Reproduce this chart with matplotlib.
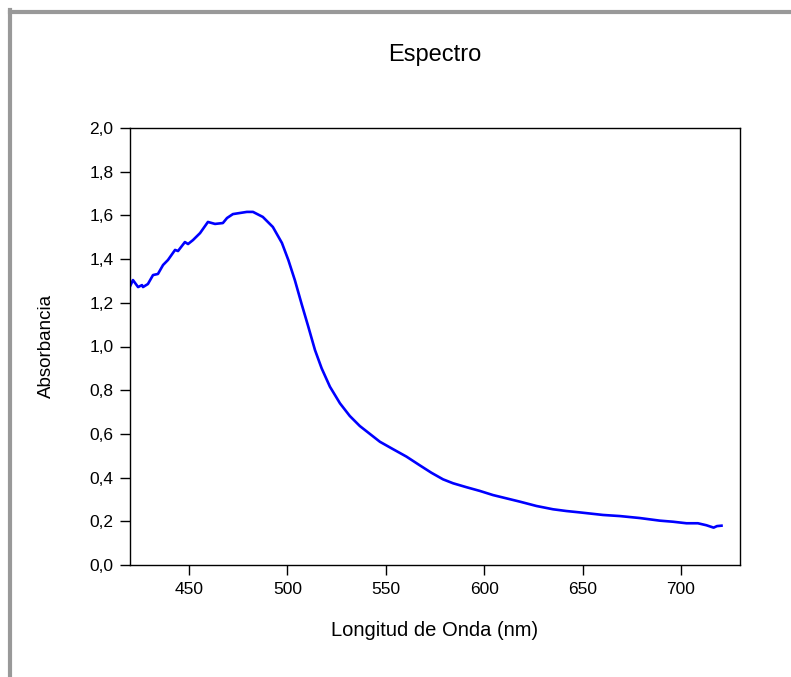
import matplotlib.pyplot as plt
from matplotlib.lines import Line2D
from matplotlib.ticker import FuncFormatter

plt.rcParams['font.family'] = ['Liberation Sans', 'DejaVu Sans']

# espectro de absorcion (nm, absorbancia)
longitud = [420.0, 421.5, 424.1, 426.1, 426.6, 429.1, 431.7, 434.2, 436.8, 439.3,
            442.9, 444.4, 447.9, 449.5, 452.0, 455.6, 459.6, 463.2, 467.2, 469.3,
            472.3, 479.4, 482.5, 487.5, 492.6, 497.2, 500.5, 503.8, 507.2, 510.6,
            514.0, 517.4, 521.6, 526.7, 531.7, 536.8, 541.9, 547.0, 553.7, 560.5,
            567.3, 573.2, 579.1, 584.2, 591.0, 597.8, 604.5, 611.3, 618.1, 626.6,
            635.0, 641.8, 648.3, 660.4, 668.9, 679.0, 689.2, 696.0, 702.8, 708.6,
            712.9, 716.6, 718.3, 720.6]
absorbancia = [1.275, 1.304, 1.272, 1.281, 1.272, 1.286, 1.327, 1.332, 1.373, 1.396,
               1.442, 1.437, 1.478, 1.469, 1.487, 1.519, 1.570, 1.561, 1.565, 1.588,
               1.606, 1.616, 1.616, 1.593, 1.547, 1.474, 1.395, 1.303, 1.195, 1.091,
               0.984, 0.900, 0.816, 0.740, 0.682, 0.636, 0.600, 0.564, 0.530, 0.496,
               0.456, 0.422, 0.392, 0.374, 0.356, 0.339, 0.320, 0.305, 0.290, 0.270,
               0.255, 0.247, 0.241, 0.229, 0.224, 0.215, 0.203, 0.198, 0.191, 0.191,
               0.182, 0.171, 0.178, 0.180]

xticks = [450, 500, 550, 600, 650, 700]
yticks = [0.0, 0.2, 0.4, 0.6, 0.8, 1.0, 1.2, 1.4, 1.6, 1.8, 2.0]

fig = plt.figure(figsize=(7.91, 6.77), dpi=100)
ax = fig.add_axes([130 / 791, 1 - 565 / 677, 610 / 791, 437 / 677])

ax.plot(longitud, absorbancia, color='#0000ff', linewidth=1.9)

ax.set_xlim(420, 730)
ax.set_ylim(0, 2.0)
ax.set_xticks(xticks)
ax.set_yticks(yticks)
ax.yaxis.set_major_formatter(FuncFormatter(lambda v, p: f'{v:.1f}'.replace('.', ',')))
ax.tick_params(direction='out', length=7, width=1, labelsize=12.5, pad=5,
               top=False, right=False)
for s in ax.spines.values():
    s.set_linewidth(1)

fig.text(435 / 791, 1 - 55 / 677, 'Espectro', ha='center', va='center', fontsize=17)
fig.text(435 / 791, 1 - 630 / 677, 'Longitud de Onda (nm)', ha='center', va='center',
         fontsize=14.5)
fig.text(46 / 791, 1 - 346 / 677, 'Absorbancia', ha='center', va='center',
         rotation=90, fontsize=13.5)

# marco gris superior e izquierdo
fig.add_artist(Line2D([10 / 791, 1], [1 - 12 / 677, 1 - 12 / 677],
                      transform=fig.transFigure, color='#999999', linewidth=3))
fig.add_artist(Line2D([10 / 791, 10 / 791], [0, 1 - 10 / 677],
                      transform=fig.transFigure, color='#999999', linewidth=3))

fig.savefig('out.png', dpi=100)
